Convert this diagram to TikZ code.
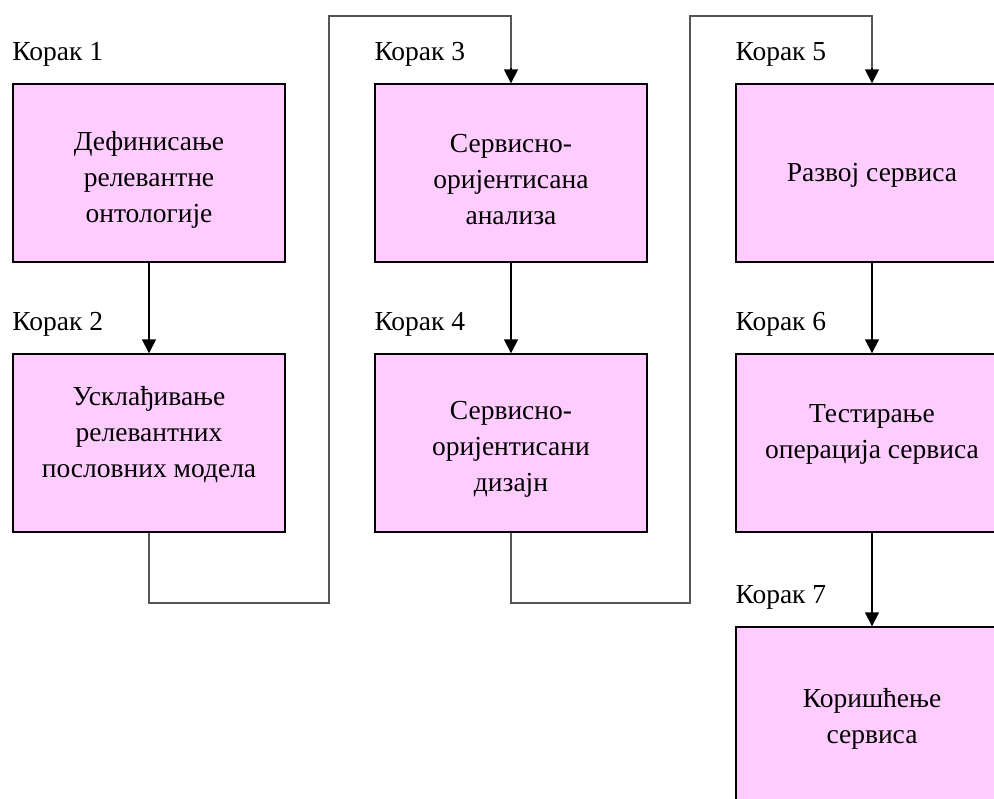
\documentclass[tikz,border=0pt]{standalone}
\usepackage{fontspec}
\setmainfont{Liberation Serif}
\usetikzlibrary{arrows.meta,calc}
\definecolor{stepfill}{HTML}{FFCCFF}
\definecolor{linegray}{HTML}{555555}
\begin{document}
\begin{tikzpicture}[x=1pt,y=-1pt,
  stepbox/.style={draw=black,line width=1.4pt,fill=stepfill,
    minimum width=272pt,minimum height=178pt,inner sep=0pt},
  steptext/.style={align=center,inner sep=0pt,font=\fontsize{27.5}{36}\selectfont},
  steplabel/.style={anchor=base west,inner sep=0pt,font=\fontsize{27.5}{30}\selectfont},
  flow/.style={line width=1.6pt,-{Triangle[length=14pt,width=14pt]}},
  link/.style={draw=linegray,line width=1.8pt,line join=miter}]
\useasboundingbox (0,0) rectangle (994,799);
\clip (0,0) rectangle (994,799);

% process step frames
\node[stepbox] (s1) at (149,173) {};
\node[stepbox] (s2) at (149,443) {};
\node[stepbox] (s3) at (511,173) {};
\node[stepbox] (s4) at (511,443) {};
\node[stepbox] (s5) at (872,173) {};
\node[stepbox] (s6) at (872,443) {};
\node[stepbox] (s7) at (872,716) {};

% step texts
\node[steptext] (t1) at ($(s1)+(0,7)$)  {Дефинисање\\релевантне\\онтологије};
\node[steptext] (t2) at ($(s2)+(0,-8)$) {Усклађивање\\релевантних\\пословних модела};
\node[steptext] (t3) at ($(s3)+(0,7)$)  {Сервисно-\\оријентисана\\анализа};
\node[steptext] (t4) at ($(s4)+(0,6)$)  {Сервисно-\\оријентисани\\дизајн};
\node[steptext] (t5) at ($(s5)+(0,2)$)  {Развој сервиса};
\node[steptext] (t6) at ($(s6)+(0,-9)$) {Тестирање\\операција сервиса};
\node[steptext] (t7) at ($(s7)+(0,3)$)  {Коришћење\\сервиса};

% step captions
\foreach \i in {1,...,7}
  \node[steplabel] (k\i) at ($(s\i.north west)+(0,-23)$) {Корак \i};

% routing points of the column-to-column links
\coordinate (a1) at (329,603);
\coordinate (a2) at (329,16);
\coordinate (b1) at (690,603);
\coordinate (b2) at (690,16);

% vertical flow inside a column
\draw[flow] (s1) -- (s2);
\draw[flow] (s3) -- (s4);
\draw[flow] (s5) -- (s6);
\draw[flow] (s6) -- (s7);

% links from the bottom of one column to the top of the next
\draw[link] (s2.south) |- (a1) -- (a2) -| ($(s3.north)+(0,-14)$);
\draw[flow] ($(s3.north)+(0,-15)$) -- (s3.north);
\draw[link] (s4.south) |- (b1) -- (b2) -| ($(s5.north)+(0,-14)$);
\draw[flow] ($(s5.north)+(0,-15)$) -- (s5.north);
\end{tikzpicture}
\end{document}
